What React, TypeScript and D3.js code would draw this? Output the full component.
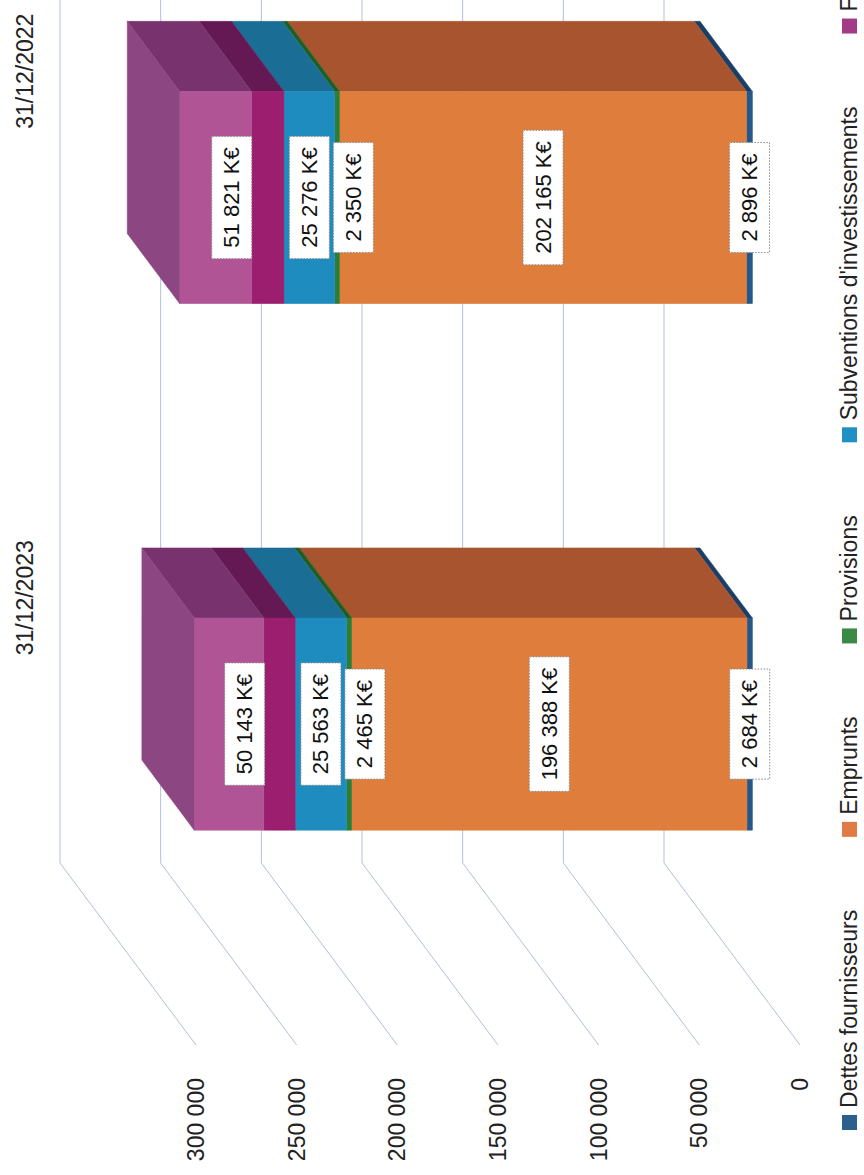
import React from 'react';
import * as d3 from 'd3';

const categories = ['31/12/2023', '31/12/2022'];
const seriesNames = ['Dettes fournisseurs', 'Emprunts', 'Provisions', "Subventions d'investissements", 'Fonds propres'];
const dettes = [2684, 2896];
const emprunts = [196388, 202165];
const provisions = [2465, 2350];
const subventions = [25563, 25276];
const fondsPropres = [50143, 51821];
const valueTicks = [0, 50000, 100000, 150000, 200000, 250000, 300000];

const frontColors = ['#24578a', '#de7d3c', '#2e7d32', '#1e8cbe', '#b05496'];
const sideColors = ['#1a3f66', '#a8552f', '#1f5e22', '#1a6e96', '#78326e'];
const legendColors = ['#2b5f8e', '#e07b45', '#3a8a45', '#1f8fc4', '#a33a85'];
const darkPurpleFront = '#9c1e6e';
const darkPurpleSide = '#641955';
const topFaceColor = '#8c4682';

const FONT = "'Liberation Sans', Arial, Helvetica, sans-serif";

export default function App() {
  const ref = React.useRef<SVGSVGElement>(null);

  React.useEffect(() => {
    const svg = d3.select(ref.current);
    svg.selectAll('*').remove();
    const H = 1175;
    const OW = 1175; // width of the un-rotated chart

    const root = svg.append('g').attr('transform', `translate(0,${H}) rotate(-90)`);

    const x = d3.scaleBand<string>().domain(categories).range([130, 1171]).paddingInner(0.597).paddingOuter(0.287);
    const y = d3.scaleLinear().domain([0, 300000]).range([800, 196]);
    const DX = 182, DY = -136;
    const proj = (px: number, v: number, z: number): [number, number] => [px + z * DX, y(v) + z * DY];
    const z0 = 0.35, z1 = 0.735;

    // gridlines
    const grid = root.append('g');
    valueTicks.forEach((v) => {
      const a = proj(130, v, 0);
      const b = proj(130, v, 1);
      grid.append('line').attr('x1', a[0]).attr('y1', a[1]).attr('x2', b[0]).attr('y2', b[1])
        .attr('stroke', '#b3bfd8').attr('stroke-width', 1);
      grid.append('line').attr('x1', b[0]).attr('y1', b[1]).attr('x2', OW + 10).attr('y2', b[1])
        .attr('stroke', '#b3bfd8').attr('stroke-width', 1);
    });

    // tick labels
    root.append('g').selectAll('text').data(valueTicks).join('text')
      .attr('x', 97).attr('y', (d) => y(d)).attr('text-anchor', 'end').attr('dominant-baseline', 'central')
      .attr('font-family', FONT).attr('font-size', 23).attr('fill', '#222')
      .text((d) => d3.format(',d')(d).replace(/,/g, ' '));

    // category labels
    root.append('g').selectAll('text').data(categories).join('text')
      .attr('x', (d) => (x(d) as number) + x.bandwidth() / 2 + DX + 8).attr('y', 33)
      .attr('text-anchor', 'middle').attr('font-family', FONT).attr('font-size', 23).attr('fill', '#222')
      .text((d) => d);

    // stacked data
    const seriesData = [dettes, emprunts, provisions, subventions, fondsPropres];
    const rows = categories.map((c, i) => {
      const r: any = { cat: c };
      seriesNames.forEach((s, k) => { r[s] = seriesData[k][i]; });
      return r;
    });
    const stacked = d3.stack<any>().keys(seriesNames)(rows);

    const bars = root.append('g');
    const poly = (pts: [number, number][]) => pts.map((p) => p.join(',')).join(' ');
    const drawBox = (g: any, xl: number, xr: number, v0: number, v1: number, front: string, side: string, top: boolean) => {
      const fa = proj(xl, v1, z0), fc = proj(xr, v0, z0);
      g.append('polygon').attr('points', poly([proj(xr, v1, z0), proj(xr, v1, z1), proj(xr, v0, z1), proj(xr, v0, z0)]))
        .attr('fill', side).attr('stroke', side).attr('stroke-width', 0.5);
      g.append('rect').attr('x', fa[0]).attr('y', fa[1]).attr('width', fc[0] - fa[0]).attr('height', fc[1] - fa[1])
        .attr('fill', front).attr('stroke', front).attr('stroke-width', 0.5);
      if (top) {
        g.append('polygon').attr('points', poly([proj(xl, v1, z0), proj(xr, v1, z0), proj(xr, v1, z1), proj(xl, v1, z1)]))
          .attr('fill', topFaceColor).attr('stroke', topFaceColor).attr('stroke-width', 0.5);
      }
    };

    const labels: any[] = [];
    categories.forEach((c, ci) => {
      const xl = x(c) as number;
      const xr = xl + x.bandwidth();
      const g = bars.append('g');
      stacked.forEach((s, k) => {
        const [v0, v1] = s[ci];
        const isTop = k === stacked.length - 1;
        if (k === 4) {
          const mid = v0 + (v1 - v0) * 0.31;
          drawBox(g, xl, xr, v0, mid, darkPurpleFront, darkPurpleSide, false);
          drawBox(g, xl, xr, mid, v1, frontColors[k], sideColors[k], isTop);
        } else {
          drawBox(g, xl, xr, v0, v1, frontColors[k], sideColors[k], isTop);
        }
        const cx = (proj(xl, 0, z0)[0] + proj(xr, 0, z0)[0]) / 2;
        const cy = (proj(xl, v0, z0)[1] + proj(xl, v1, z0)[1]) / 2;
        labels.push({ ci, cx, cy, text: d3.format(',d')(v1 - v0).replace(/,/g, ' ') + ' K€' });
      });
    });

    // labels with simple overlap avoidance
    const BH = 40, GAP = 4;
    const lg = root.append('g');
    categories.forEach((c, ci) => {
      const ls = labels.filter((l) => l.ci === ci).sort((a, b) => a.cy - b.cy);
      let prevBottom = -Infinity;
      ls.forEach((l) => {
        let cy = l.cy;
        if (cy - BH / 2 < prevBottom + GAP) cy = prevBottom + GAP + BH / 2;
        prevBottom = cy + BH / 2;
        const gg = lg.append('g');
        const rect = gg.append('rect');
        const t = gg.append('text').attr('x', l.cx).attr('y', cy).attr('text-anchor', 'middle')
          .attr('dominant-baseline', 'central').attr('font-family', FONT).attr('font-size', 22).attr('fill', '#111')
          .text(l.text);
        const w = (t.node() as SVGTextElement).getComputedTextLength() + 22;
        rect.attr('x', l.cx - w / 2).attr('y', cy - BH / 2).attr('width', w).attr('height', BH)
          .attr('fill', '#fff').attr('stroke', '#8a8a8a').attr('stroke-width', 1).attr('stroke-dasharray', '1.5,1.5');
      });
    });

    // legend
    const leg = root.append('g');
    let lx = 45;
    seriesNames.forEach((s, k) => {
      leg.append('rect').attr('x', lx).attr('y', 842).attr('width', 15).attr('height', 15).attr('fill', legendColors[k]);
      const t = leg.append('text').attr('x', lx + 22).attr('y', 857).attr('font-family', FONT).attr('font-size', 23)
        .attr('fill', '#222').text(s);
      lx += 22 + (t.node() as SVGTextElement).getComputedTextLength() + 73;
    });
  }, []);

  return (
    <>
      <style>{`body{margin:0;background:#fff;}`}</style>
      <svg ref={ref} width={864} height={1175} style={{ display: 'block', background: '#fff' }} />
    </>
  );
}
